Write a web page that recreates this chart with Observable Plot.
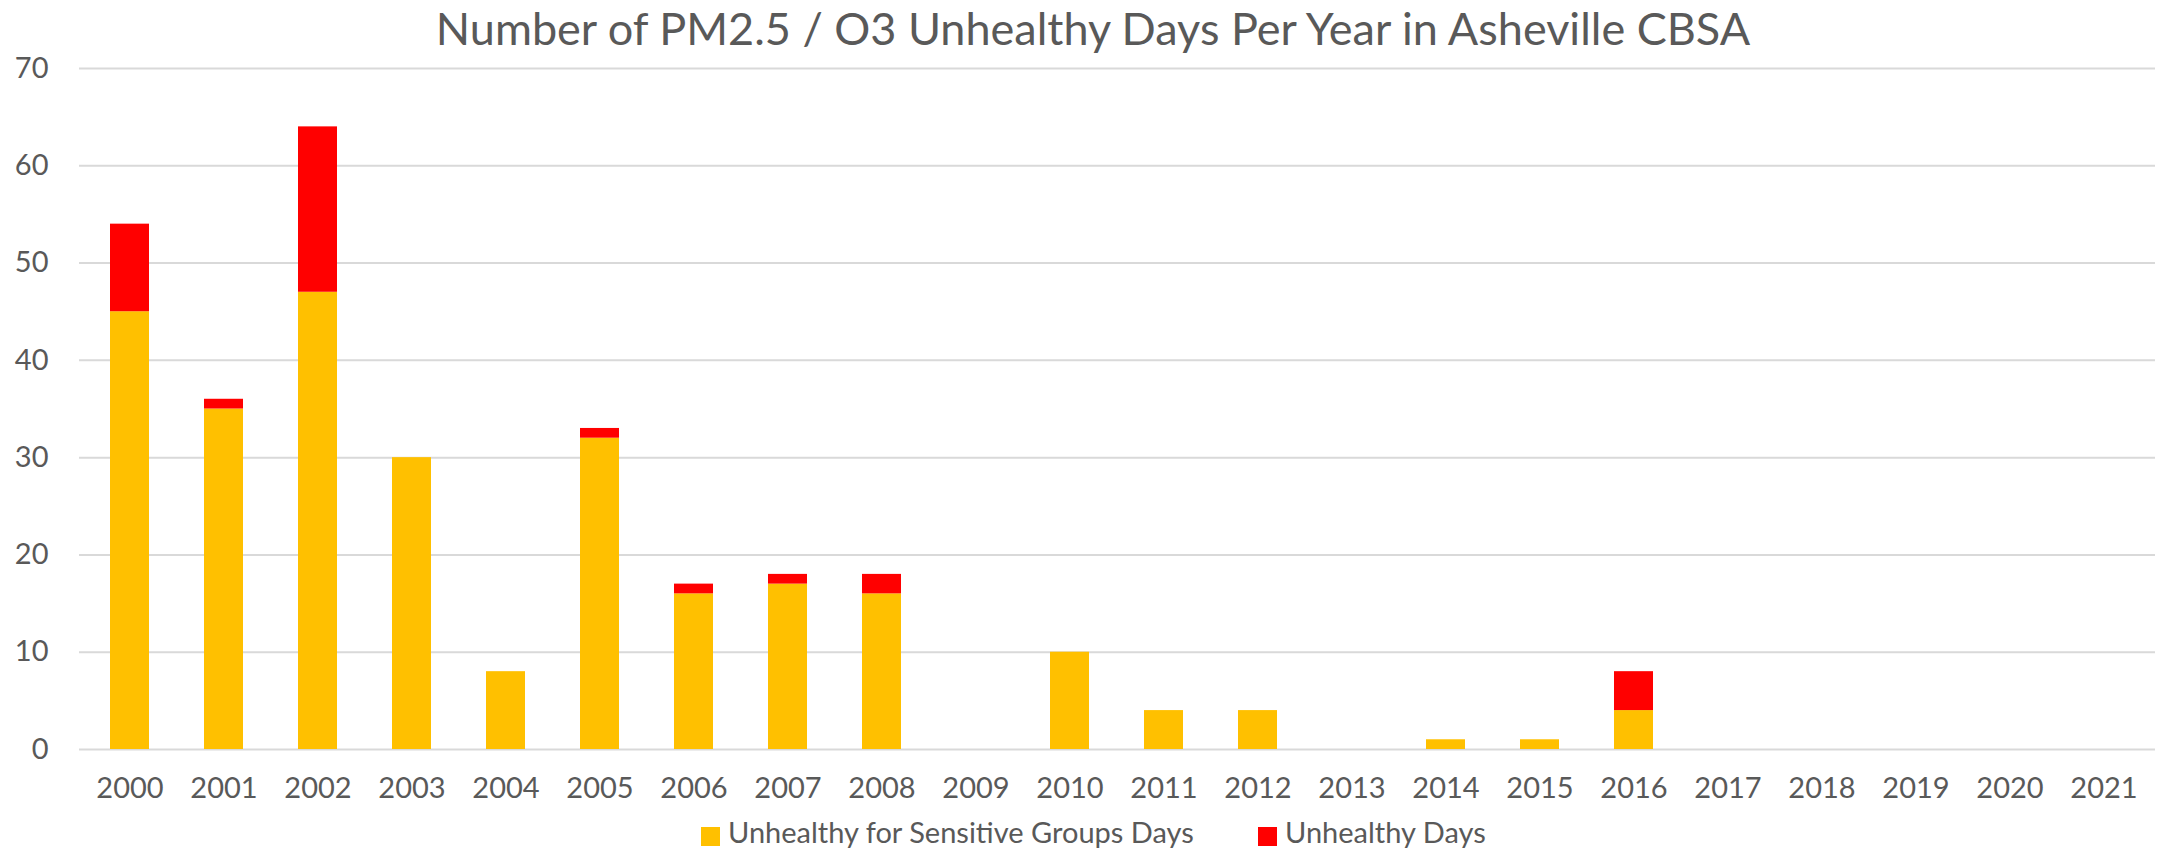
<!DOCTYPE html>
<html><head><meta charset="utf-8">
<script src="https://cdn.jsdelivr.net/npm/d3@7"></script>
<script src="https://cdn.jsdelivr.net/npm/@observablehq/plot@0.6"></script>
<style>
body{margin:0;background:#fff;}
#wrap{position:relative;width:2165px;height:852px;font-family:Lato, sans-serif;color:#595959;overflow:hidden;background:#fff;}
#title{position:absolute;left:0;top:1px;width:2165px;padding-left:21px;box-sizing:border-box;text-align:center;font-size:45px;line-height:54px;white-space:nowrap;}
#chart{position:absolute;left:0;top:50px;}
.sw{position:absolute;width:19px;height:19px;top:827px;}
.lab{position:absolute;top:817px;font-size:29px;line-height:29px;white-space:nowrap;}
</style></head>
<body><div id="wrap"><div id="chart"></div><div id="title"></div><div id="legend"></div></div>
<script>
const titleText = "Number of PM2.5 / O3 Unhealthy Days Per Year in Asheville CBSA";
const years = ["2000","2001","2002","2003","2004","2005","2006","2007","2008","2009","2010","2011","2012","2013","2014","2015","2016","2017","2018","2019","2020","2021"];
const seriesNames = ["Unhealthy for Sensitive Groups Days", "Unhealthy Days"];
const sensitiveDays = [45,35,47,30,8,32,16,17,16,0,10,4,4,0,1,1,4,0,0,0,0,0];
const unhealthyDays = [9,1,17,0,0,1,1,1,2,0,0,0,0,0,0,0,4,0,0,0,0,0];
const seriesColors = ["#FFC000", "#FF0000"];
const yTicks = [0,10,20,30,40,50,60,70];
const legendLeft = [701, 1258];

document.getElementById("title").textContent = titleText;

const seriesValues = [sensitiveDays, unhealthyDays];
const data = [];
seriesNames.forEach((s, si) => years.forEach((y, i) => data.push({year: y, series: s, value: seriesValues[si][i]})));

const chart = Plot.plot({
  width: 2165, height: 760,
  marginLeft: 79, marginRight: 10, marginTop: 18, marginBottom: 61,
  style: {fontFamily: "Lato, sans-serif", fontSize: "29px", color: "#595959", background: "transparent"},
  x: {type: "band", domain: years, paddingInner: 0.58, paddingOuter: 0.29, label: null},
  y: {domain: [0, 70], label: null},
  color: {domain: seriesNames, range: seriesColors},
  marks: [
    Plot.gridY(yTicks, {stroke: "#d9d9d9", strokeOpacity: 1, strokeWidth: 2}),
    Plot.axisY(yTicks, {tickSize: 0, tickPadding: 31, label: null, fill: "#595959"}),
    Plot.axisX({tickSize: 0, tickPadding: 28, label: null, fill: "#595959"}),
    Plot.barY(data, {x: "year", y: "value", fill: "series", order: seriesNames})
  ]
});
document.getElementById("chart").appendChild(chart);

const legend = document.getElementById("legend");
seriesNames.forEach((s, i) => {
  const sw = document.createElement("div");
  sw.className = "sw";
  sw.style.left = legendLeft[i] + "px";
  sw.style.background = seriesColors[i];
  legend.appendChild(sw);
  const lab = document.createElement("div");
  lab.className = "lab";
  lab.style.left = (legendLeft[i] + 27) + "px";
  lab.textContent = s;
  legend.appendChild(lab);
});
</script>
</body></html>
